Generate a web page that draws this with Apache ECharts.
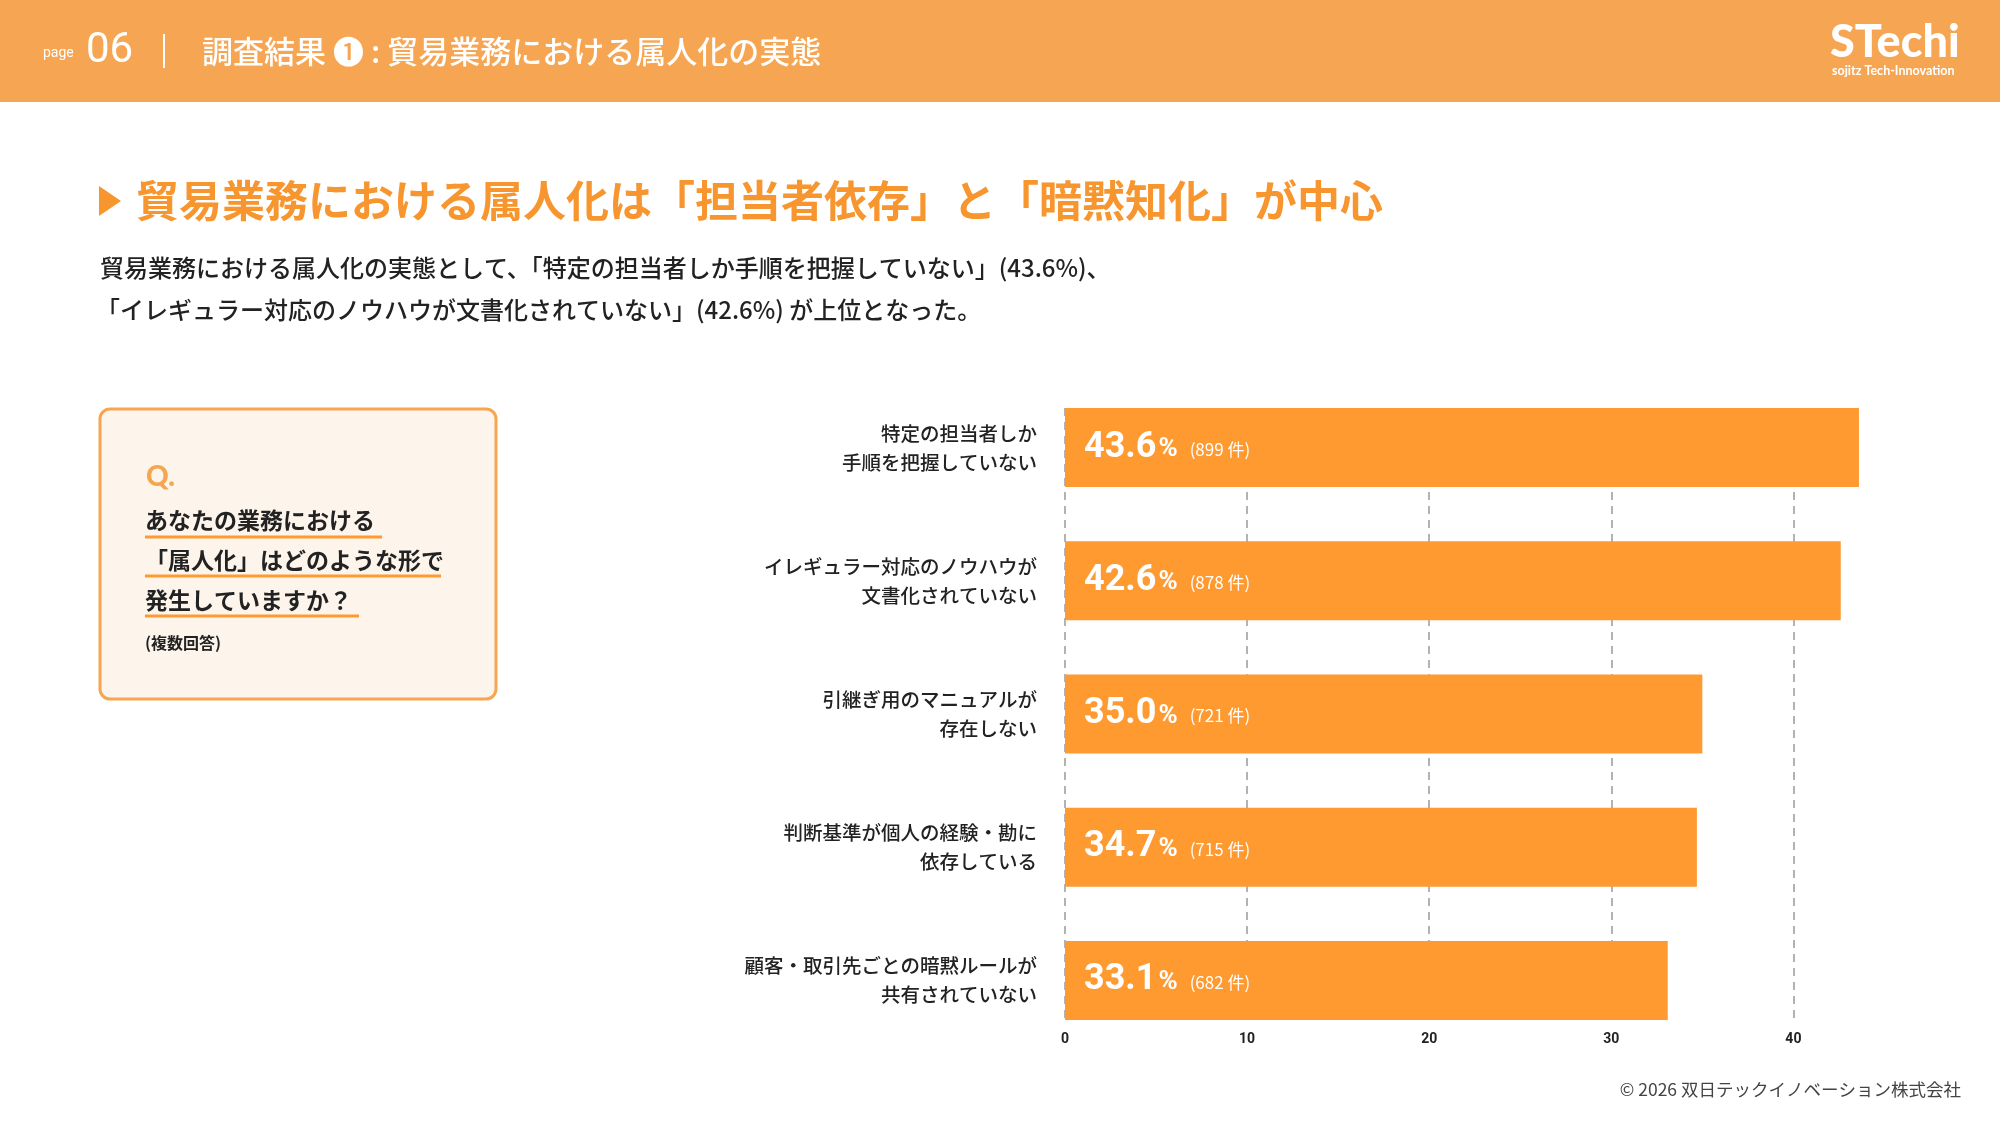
<!DOCTYPE html>
<html lang="ja">
<head>
<meta charset="utf-8">
<title>調査結果 ❶ 貿易業務における属人化の実態</title>
<script src="https://cdn.jsdelivr.net/npm/echarts@6/dist/echarts.min.js"></script>
<style>
    html, body { margin: 0; padding: 0; background: #fff; }
    #main { width: 2000px; height: 1126px; }
</style>
</head>
<body>
<div id="main"></div>
<script>
'use strict';

// データ
var categories = [
    '特定の担当者しか\n手順を把握していない',
    'イレギュラー対応のノウハウが\n文書化されていない',
    '引継ぎ用のマニュアルが\n存在しない',
    '判断基準が個人の経験・勘に\n依存している',
    '顧客・取引先ごとの暗黙ルールが\n共有されていない'
];
var percents = [43.6, 42.6, 35.0, 34.7, 33.1];
var counts = [899, 878, 721, 715, 682];
var xTicks = [0, 10, 20, 30, 40];

var colorType = {
    header: '#F6A652',
    title: '#F7952F',
    bar: '#FF9A31',
    boxFill: '#FDF5EC',
    boxLine: '#F6A650',
    text: '#222222',
    grid: '#9A9A9A'
};
var jp = '"Noto Sans CJK JP", "Noto Sans", sans-serif';

var myChart = echarts.init(document.getElementById('main'), null, { renderer: 'canvas' });

// 上部の帯・見出し・設問ボックスなど
var graphics = [
    { type: 'rect', shape: { x: 0, y: 0, width: 2000, height: 102 }, style: { fill: colorType.header }, silent: true },
    { type: 'text', x: 43, y: 53, style: { text: 'page', fill: '#fff', font: '400 14px Roboto', textVerticalAlign: 'middle' } },
    { type: 'text', x: 86, y: 51, style: { text: '06', fill: '#fff', font: '400 42px Roboto', textVerticalAlign: 'middle' } },
    { type: 'line', shape: { x1: 164, y1: 34, x2: 164, y2: 68 }, style: { stroke: '#fff', lineWidth: 2 } },
    { type: 'text', x: 202, y: 51, style: { text: '調査結果 ❶ : 貿易業務における属人化の実態', fill: '#fff', font: '500 31px ' + jp, textVerticalAlign: 'middle' } },
    // ロゴ
    { type: 'text', x: 1830, y: 42, style: { text: 'STechi', fill: '#fff', font: '900 45px Lato', textVerticalAlign: 'middle' } },
    { type: 'text', x: 1832, y: 71, style: { text: 'sojitz Tech-Innovation', fill: '#fff', font: '700 12.5px Lato', textVerticalAlign: 'middle' } },
    // 見出し
    { type: 'polygon', shape: { points: [[99, 186], [99, 216], [121, 201]] }, style: { fill: colorType.title } },
    { type: 'text', x: 136, y: 201, style: { text: '貿易業務における属人化は「担当者依存」と「暗黙知化」が中心', fill: colorType.title, font: '700 43px ' + jp, textVerticalAlign: 'middle' } },
    { type: 'text', x: 100, y: 268, style: { text: '貿易業務における属人化の実態として、「特定の担当者しか手順を把握していない」(43.6%)、', fill: colorType.text, font: '500 24px ' + jp, textVerticalAlign: 'middle' } },
    { type: 'text', x: 96, y: 310, style: { text: '「イレギュラー対応のノウハウが文書化されていない」(42.6%) が上位となった。', fill: colorType.text, font: '500 24px ' + jp, textVerticalAlign: 'middle' } },
    // 設問ボックス
    { type: 'rect', shape: { x: 100, y: 409, width: 396, height: 290, r: 10 }, style: { fill: colorType.boxFill, stroke: colorType.boxLine, lineWidth: 3 } },
    { type: 'text', x: 146, y: 477, style: { text: 'Q.', fill: colorType.boxLine, font: '900 28px Lato', textVerticalAlign: 'middle' } },
    { type: 'text', x: 145, y: 520, style: { text: 'あなたの業務における', fill: colorType.text, font: '700 23px ' + jp, textVerticalAlign: 'middle' } },
    { type: 'line', shape: { x1: 145, y1: 537, x2: 382, y2: 537 }, style: { stroke: colorType.bar, lineWidth: 3 } },
    { type: 'text', x: 145, y: 560, style: { text: '「属人化」はどのような形で', fill: colorType.text, font: '700 23px ' + jp, textVerticalAlign: 'middle' } },
    { type: 'line', shape: { x1: 145, y1: 576, x2: 441, y2: 576 }, style: { stroke: colorType.bar, lineWidth: 3 } },
    { type: 'text', x: 145, y: 600, style: { text: '発生していますか？', fill: colorType.text, font: '700 23px ' + jp, textVerticalAlign: 'middle' } },
    { type: 'line', shape: { x1: 145, y1: 616, x2: 359, y2: 616 }, style: { stroke: colorType.bar, lineWidth: 3 } },
    { type: 'text', x: 145, y: 643, style: { text: '(複数回答)', fill: colorType.text, font: '700 16px ' + jp, textVerticalAlign: 'middle' } },
    // フッター
    { type: 'text', x: 1961, y: 1089, style: { text: '© 2026 双日テックイノベーション株式会社', fill: '#444', font: '400 17.5px ' + jp, textAlign: 'right', textVerticalAlign: 'middle' } }
];

var option = {
    backgroundColor: '#fff',
    animation: false,
    textStyle: { fontFamily: jp },
    graphic: graphics,
    grid: [
        // 目盛り線用
        { left: 1065, top: 408, width: 728.4, height: 612, containLabel: false },
        // 棒グラフ用
        { left: 1065, top: 381, width: 728.4, height: 666, containLabel: false }
    ],
    xAxis: [{
        gridIndex: 0,
        type: 'value',
        min: xTicks[0],
        max: xTicks[xTicks.length - 1],
        interval: 10,
        axisLine: { show: false },
        axisTick: { show: false },
        axisLabel: {
            margin: 12,
            color: colorType.text,
            fontSize: 14,
            fontWeight: 'bold',
            fontFamily: 'Roboto'
        },
        splitLine: {
            show: true,
            lineStyle: { color: colorType.grid, type: [8, 6], width: 1.5 }
        }
    }, {
        gridIndex: 1,
        type: 'value',
        min: xTicks[0],
        max: xTicks[xTicks.length - 1],
        show: false
    }],
    yAxis: [{
        gridIndex: 0,
        type: 'value',
        show: false
    }, {
        gridIndex: 1,
        type: 'category',
        inverse: true,
        data: categories,
        axisLine: { show: false },
        axisTick: { show: false },
        splitLine: { show: false },
        axisLabel: {
            margin: 28,
            color: colorType.text,
            fontSize: 19.5,
            fontWeight: 500,
            lineHeight: 29,
            align: 'right'
        }
    }],
    series: [{
        name: '属人化の実態',
        type: 'bar',
        xAxisIndex: 1,
        yAxisIndex: 1,
        data: percents,
        barWidth: 79,
        clip: false,
        silent: true,
        z: 5,
        itemStyle: { color: colorType.bar },
        label: {
            show: true,
            position: 'insideLeft',
            distance: 19,
            formatter: function (p) {
                return '{v|' + percents[p.dataIndex].toFixed(1) + '}{p|%}{n|(' + counts[p.dataIndex] + ' 件)}';
            },
            rich: {
                v: { color: '#fff', fontSize: 36, fontWeight: 'bold', fontFamily: 'Roboto' },
                p: { color: '#fff', fontSize: 26, fontWeight: 'bold', fontFamily: 'Roboto', padding: [4, 0, 0, 2] },
                n: { color: '#fff', fontSize: 17, fontWeight: 400, fontFamily: jp, padding: [4, 0, 0, 12] }
            }
        }
    }]
};
myChart.setOption(option);
</script>
</body>
</html>
